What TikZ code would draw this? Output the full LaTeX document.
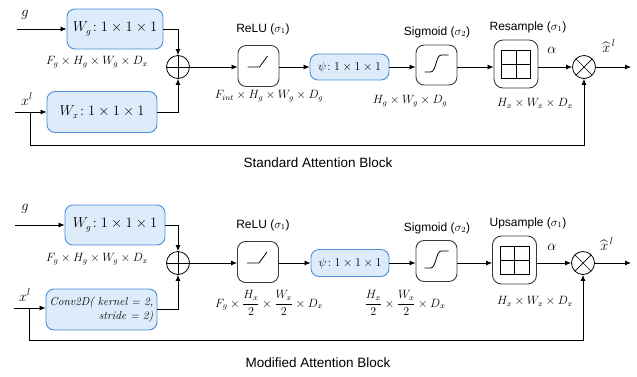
\documentclass[tikz,border=0pt]{standalone}
\usepackage{fontspec}
\setsansfont{Liberation Sans}
\usepackage{amsmath}
\usetikzlibrary{arrows.meta,calc}

\definecolor{boxfill}{HTML}{DDEBFA}
\definecolor{boxline}{HTML}{4A8FDB}
\definecolor{actline}{HTML}{3A3A3A}

\tikzset{
  arr/.style={-{Latex[length=6pt,width=5pt]}, line width=0.8pt},
  wire/.style={line width=0.8pt},
  convbox/.style={draw=boxline, fill=boxfill, rounded corners=8pt, line width=0.9pt,
    inner sep=0pt, font=\fontsize{13.5}{15}\selectfont},
  actbox/.style={draw=actline, rounded corners=8pt, line width=0.9pt, inner sep=0pt,
    minimum width=41pt, minimum height=41pt},
  gridbox/.style={draw=actline, rounded corners=9pt, line width=0.9pt, inner sep=0pt,
    minimum width=44pt, minimum height=48pt},
  joinnode/.style={circle, draw, line width=0.8pt, minimum size=23pt, inner sep=0pt},
  plusnode/.style={joinnode, path picture={
    \draw[line width=0.7pt] (path picture bounding box.north) -- (path picture bounding box.south)
      (path picture bounding box.west) -- (path picture bounding box.east);}},
  timesnode/.style={joinnode, path picture={
    \draw[line width=0.7pt] (path picture bounding box.north west) -- (path picture bounding box.south east)
      (path picture bounding box.south west) -- (path picture bounding box.north east);}},
  dimtxt/.style={inner sep=0pt, font=\fontsize{12}{14}\selectfont},
  headtxt/.style={inner sep=0pt, font=\sffamily\fontsize{12}{14}\selectfont},
  titletxt/.style={inner sep=0pt, font=\sffamily\fontsize{13.5}{15}\selectfont},
  sym/.style={inner sep=0pt, font=\fontsize{14}{16}\selectfont},
}

% icons drawn inside the activation boxes
\newcommand{\reluicon}[1]{\draw[line width=0.8pt] ($(#1)+(-11,1)$) -- ($(#1)+(1,1)$) -- ($(#1)+(9,-10)$);}
\newcommand{\sigicon}[1]{\draw[line width=0.8pt] ($(#1)+(-12,7)$) -- ($(#1)+(-6,7)$)
  .. controls ($(#1)+(0,7)$) and ($(#1)+(-1,-10)$) .. ($(#1)+(5,-10)$) -- ($(#1)+(12,-10)$);}
\newcommand{\gridicon}[1]{\draw[line width=0.8pt] ($(#1)+(-14.5,-14)$) rectangle ($(#1)+(14.5,14)$)
  ($(#1)+(0,-14)$) -- ($(#1)+(0,14)$) ($(#1)+(-14.5,0)$) -- ($(#1)+(14.5,0)$);}

\begin{document}
\begin{tikzpicture}[x=1pt, y=-1pt]
\useasboundingbox (0,0) rectangle (637,376);

% ---------------- Standard attention block ----------------
\node[convbox, minimum width=96pt, minimum height=40pt] (wg) at (115,29) {$W_g\!: 1\times1\times1$};
\node[convbox, minimum width=110pt, minimum height=41pt] (wx) at (102,112) {$W_x\!: 1\times1\times1$};
\node[plusnode] (sum) at (178,67) {};
\node[actbox] (relu) at (258.5,66) {};
\node[convbox, minimum width=79pt, minimum height=26pt, font=\fontsize{11.5}{13}\selectfont] (psi) at (349.5,67) {$\psi\!: 1\times1\times1$};
\node[actbox, minimum height=40pt] (sig) at (436.5,65) {};
\node[gridbox] (res) at (516,64) {};
\node[timesnode] (mul) at (584,67) {};

\reluicon{relu}
\sigicon{sig}
\gridicon{res}

\coordinate (gin) at (17,29);
\coordinate (xin) at (15,112);
\coordinate (xbr) at (30,112);
\coordinate (fb) at (30,145);
\coordinate (out) at (631,67);

\node[sym] (glab) at (25,15) {$g$};
\node[sym] (xlab) at (27,99) {$x^l$};
\node[dimtxt] (d1) at (97,62) {$F_g\times H_g\times W_g\times D_x$};
\node[headtxt] (h1) at (263,29) {ReLU ($\sigma_1$)};
\node[headtxt] (h2) at (437,32) {Sigmoid ($\sigma_2$)};
\node[headtxt] (h3) at (528,27) {Resample ($\sigma_1$)};
\node[dimtxt] (d2) at (269,96) {$F_{int}\times H_g\times W_g\times D_g$};
\node[dimtxt] (d3) at (410,101) {$H_g\times W_g\times D_g$};
\node[dimtxt] (d4) at (535,103) {$H_x\times W_x\times D_x$};
\node[sym] (al) at (552,50) {$\alpha$};
\node[sym] (xh) at (609,46) {${\widehat{x}}^{\kern1.5pt l}$};
\node[titletxt] (t1) at (318,163) {Standard Attention Block};

\draw[arr] (gin) -- (wg.west);
\draw[arr] (xin) -- (wx.west);
\draw[arr] (wg.east) -| (sum.north);
\draw[arr] (wx.east) -| (sum.south);
\draw[arr] (sum.east) -- (relu.west |- sum.east);
\draw[arr] (relu.east |- psi.west) -- (psi.west);
\draw[arr] (psi.east) -- (sig.west |- psi.east);
\draw[arr] (sig.east |- psi.east) -- (res.west |- psi.east);
\draw[arr] (res.east |- mul.west) -- (mul.west);
\draw[arr] (mul.east) -- (out);
\draw[arr] (xbr) -- (fb) -| (mul.south);

% ---------------- Modified attention block ----------------
\node[convbox, minimum width=100pt, minimum height=40pt] (wg2) at (115,225) {$W_g\!: 1\times1\times1$};
\node[convbox, minimum width=111pt, minimum height=41pt, align=right, font=\fontsize{11.5}{14}\selectfont\itshape] (cv) at (101.5,309.5) {Conv2D( kernel = 2,\\ stride = 2)};
\node[plusnode] (sum2) at (178,263) {};
\node[actbox] (relu2) at (258,262) {};
\node[convbox, minimum width=78pt, minimum height=27pt, font=\fontsize{11.5}{13}\selectfont] (psi2) at (350,263) {$\psi\!: 1\times1\times1$};
\node[actbox] (sig2) at (436.5,261) {};
\node[gridbox] (ups) at (514.5,260) {};
\node[timesnode] (mul2) at (583,263) {};

\reluicon{relu2}
\sigicon{sig2}
\gridicon{ups}

\coordinate (gin2) at (15,225);
\coordinate (xin2) at (14,308);
\coordinate (xbr2) at (29,308);
\coordinate (fb2) at (29,340);
\coordinate (out2) at (631,263);

\node[sym] (glab2) at (25,209) {$g$};
\node[sym] (xlab2) at (25,295) {$x^l$};
\node[dimtxt] (e1) at (97,259) {$F_g\times H_g\times W_g\times D_x$};
\node[headtxt] (k1) at (263,225) {ReLU ($\sigma_1$)};
\node[headtxt] (k2) at (437,228) {Sigmoid ($\sigma_2$)};
\node[headtxt] (k3) at (528,223) {Upsample ($\sigma_1$)};
\node[dimtxt] (e2) at (269,303) {$\displaystyle F_g\times\frac{H_x}{2}\times\frac{W_x}{2}\times D_x$};
\node[dimtxt] (e3) at (405,303) {$\displaystyle \frac{H_x}{2}\times\frac{W_x}{2}\times D_x$};
\node[dimtxt] (e4) at (535,301) {$H_x\times W_x\times D_x$};
\node[sym] (al2) at (552,247) {$\alpha$};
\node[sym] (xh2) at (607,244) {${\widehat{x}}^{\kern1.5pt l}$};
\node[titletxt] (t2) at (318,363) {Modified Attention Block};

\draw[arr] (gin2) -- (wg2.west);
\draw[arr] (xin2) -- (cv.west |- xin2);
\draw[arr] (wg2.east) -| (sum2.north);
\draw[arr] (cv.east) -| (sum2.south);
\draw[arr] (sum2.east) -- (relu2.west |- sum2.east);
\draw[arr] (relu2.east |- psi2.west) -- (psi2.west);
\draw[arr] (psi2.east) -- (sig2.west |- psi2.east);
\draw[arr] (sig2.east |- psi2.east) -- (ups.west |- psi2.east);
\draw[arr] (ups.east |- mul2.west) -- (mul2.west);
\draw[arr] (mul2.east) -- (out2);
\draw[arr] (xbr2) -- (fb2) -| (mul2.south);
\end{tikzpicture}
\end{document}
